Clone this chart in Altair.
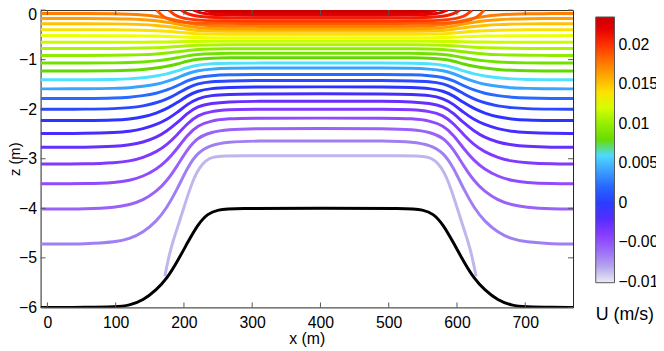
import altair as alt
import pandas as pd

# ---------------- data ----------------
KNOTS_X = [-10, 60, 100, 120, 140, 160, 175, 190, 205, 220, 240, 265, 300, 400]

# far-field contour lines: level (m/s) and z at the knots (left half, symmetric about x=400)
LEVELS = [-0.0068, -0.0057, -0.0047, -0.0037, -0.0026, -0.0015, -0.0005, 0.0007,
          0.0021, 0.0042, 0.0062, 0.0075, 0.0086, 0.0097, 0.0107, 0.0117,
          0.0128, 0.0140, 0.0151, 0.0163, 0.0175]
PROFILES = [
    [-4.72, -4.72, -4.68, -4.62, -4.49, -4.26, -3.99, -3.62, -3.18, -2.87, -2.72, -2.66, -2.64, -2.64],
    [-4.015, -4.015, -3.98, -3.93, -3.84, -3.66, -3.45, -3.15, -2.81, -2.57, -2.46, -2.41, -2.39, -2.39],
    [-3.505, -3.505, -3.48, -3.44, -3.36, -3.21, -3.04, -2.80, -2.52, -2.33, -2.23, -2.19, -2.18, -2.18],
    [-3.105, -3.105, -3.08, -3.05, -2.98, -2.86, -2.72, -2.52, -2.29, -2.12, -2.04, -2.01, -2.00, -2.00],
    [-2.77, -2.77, -2.75, -2.72, -2.67, -2.57, -2.44, -2.28, -2.08, -1.94, -1.88, -1.85, -1.84, -1.84],
    [-2.49, -2.49, -2.47, -2.45, -2.40, -2.31, -2.21, -2.07, -1.90, -1.78, -1.72, -1.70, -1.69, -1.69],
    [-2.23, -2.23, -2.22, -2.20, -2.16, -2.08, -1.99, -1.87, -1.73, -1.63, -1.58, -1.56, -1.55, -1.55],
    [-2.00, -2.00, -1.99, -1.97, -1.94, -1.87, -1.80, -1.69, -1.57, -1.48, -1.44, -1.43, -1.42, -1.42],
    [-1.785, -1.785, -1.775, -1.76, -1.73, -1.68, -1.615, -1.53, -1.425, -1.355, -1.32, -1.305, -1.30, -1.30],
    [-1.59, -1.59, -1.58, -1.57, -1.54, -1.50, -1.44, -1.37, -1.28, -1.22, -1.19, -1.17, -1.17, -1.17],
    [-1.405, -1.405, -1.40, -1.39, -1.37, -1.33, -1.29, -1.23, -1.16, -1.11, -1.08, -1.07, -1.07, -1.07],
    [-1.23, -1.23, -1.225, -1.215, -1.20, -1.17, -1.135, -1.09, -1.03, -0.99, -0.97, -0.963, -0.96, -0.96],
    [-1.07, -1.07, -1.066, -1.06, -1.048, -1.026, -1.00, -0.964, -0.922, -0.892, -0.878, -0.872, -0.87, -0.87],
    [-0.915, -0.915, -0.912, -0.908, -0.90, -0.885, -0.868, -0.843, -0.815, -0.795, -0.785, -0.781, -0.78, -0.78],
    [-0.775, -0.775, -0.774, -0.771, -0.767, -0.758, -0.749, -0.735, -0.720, -0.708, -0.703, -0.701, -0.70, -0.70],
    [-0.65, -0.65, -0.65, -0.649, -0.648, -0.646, -0.643, -0.639, -0.635, -0.632, -0.631, -0.63, -0.63, -0.63],
    [-0.515, -0.515, -0.516, -0.517, -0.52, -0.525, -0.531, -0.539, -0.548, -0.555, -0.558, -0.56, -0.56, -0.56],
    [-0.395, -0.395, -0.397, -0.40, -0.406, -0.416, -0.428, -0.445, -0.465, -0.48, -0.486, -0.489, -0.49, -0.49],
    [-0.275, -0.275, -0.278, -0.283, -0.292, -0.309, -0.329, -0.357, -0.39, -0.413, -0.424, -0.428, -0.43, -0.43],
    [-0.17, -0.17, -0.174, -0.18, -0.193, -0.216, -0.244, -0.281, -0.325, -0.357, -0.372, -0.378, -0.38, -0.38],
    [-0.07, -0.07, -0.075, -0.083, -0.099, -0.127, -0.161, -0.208, -0.262, -0.301, -0.32, -0.327, -0.33, -0.33],
]

# weakest contour: only over the bump
LIGHT_LEVEL = -0.0085
LIGHT_X = [172, 179, 185, 191, 200, 208, 215, 223, 232, 240, 255, 270, 400]
LIGHT_Z = [-5.37, -4.90, -4.62, -4.37, -3.98, -3.64, -3.38, -3.17, -3.04, -2.97, -2.945, -2.94, -2.94]

# strongest contours: enter from the surface over the bump
TOP_LEVELS = [0.0187, 0.0198, 0.0209, 0.0219, 0.0227, 0.0234]
TOP_X = [
    [160, 168, 178, 192, 210, 235, 270, 400],
    [178, 186, 196, 210, 228, 253, 288, 400],
    [196, 204, 214, 228, 246, 271, 306, 400],
    [214, 222, 232, 246, 264, 294, 400],
    [230, 238, 248, 265, 290, 400],
    [246, 254, 264, 280, 305, 400],
]
TOP_Z = [
    [0.0, -0.12, -0.19, -0.235, -0.258, -0.268, -0.27, -0.27],
    [0.0, -0.10, -0.155, -0.19, -0.21, -0.218, -0.22, -0.22],
    [0.0, -0.07, -0.11, -0.138, -0.152, -0.158, -0.16, -0.16],
    [0.0, -0.05, -0.075, -0.093, -0.1, -0.105, -0.105],
    [0.0, -0.03, -0.046, -0.056, -0.06, -0.06],
    [0.0, -0.012, -0.018, -0.022, -0.024, -0.024],
]

# bottom (bump)
BUMP_X = [-10, 60, 100, 120, 140, 160, 175, 190, 205, 220, 235, 250, 270, 400]
BUMP_Z = [-6.0, -6.0, -5.99, -5.96, -5.86, -5.64, -5.42, -5.08, -4.70, -4.33, -4.10, -4.03, -4.0, -4.0]

X_TICKS = [0, 100, 200, 300, 400, 500, 600, 700]
Z_TICKS = [-6, -5, -4, -3, -2, -1, 0]
LEGEND_VALUES = [-0.01, -0.005, 0, 0.005, 0.01, 0.015, 0.02]

CBAR_VALUES = [-0.0101, -0.0090, -0.0080, -0.0068, -0.0055, -0.0042, -0.0030, -0.0017,
               -0.0005, 0.0010, 0.0025, 0.0040, 0.0055, 0.0069, 0.00695, 0.0085,
               0.0100, 0.0115, 0.0128, 0.0142, 0.0156, 0.0170, 0.0185, 0.0200,
               0.0215, 0.0235]
CBAR_COLORS = ['#ebebf2', '#cdc6ec', '#b3a3ee', '#a07ef4', '#9a5cfa', '#8a40ff', '#7030ff', '#4a2cff',
               '#2c34ff', '#2a4cff', '#2e72ff', '#3c9eff', '#52c8ff', '#6af7f7', '#5cd400', '#6ee000',
               '#96ee00', '#c6fa00', '#eeff00', '#ffdc00', '#ffb400', '#ff8c00', '#ff6000', '#ff3000',
               '#f20000', '#c80000']

# ---------------- build tables ----------------
X_MAX = 770


def mirror(xs, zs):
    left = list(zip(xs, zs))
    right = [(min(800 - x, X_MAX), z) for x, z in reversed(left) if x != 400]
    return left + right


rows = []
lid = 0
for lvl, prof in zip(LEVELS, PROFILES):
    for x, z in mirror(KNOTS_X, prof):
        rows.append({"id": lid, "x": x, "z": z, "level": lvl})
    lid += 1
for x, z in mirror(LIGHT_X, LIGHT_Z):
    rows.append({"id": lid, "x": x, "z": z, "level": LIGHT_LEVEL})
lid += 1
for lvl, xs, zs in zip(TOP_LEVELS, TOP_X, TOP_Z):
    for x, z in mirror(xs, zs):
        rows.append({"id": lid, "x": x, "z": z, "level": lvl})
    lid += 1
lines_df = pd.DataFrame(rows)

bump_df = pd.DataFrame([{"x": x, "z": z} for x, z in mirror(BUMP_X, BUMP_Z)])
xt_df = pd.DataFrame({"x": X_TICKS})
zt_df = pd.DataFrame({"z": Z_TICKS})

W, H = 539, 301
FONT = "Liberation Sans"

x_enc = alt.X("x:Q", scale=alt.Scale(domain=[-10, X_MAX], nice=False, zero=False),
              axis=alt.Axis(values=X_TICKS, title="x (m)", ticks=False, tickSize=0, domain=False,
                            grid=False, labelPadding=7, labelFontSize=16, titleFontSize=16,
                            titleFontWeight="normal", labelFlush=False, titleY=37,
                            titleBaseline="alphabetic"))
z_enc = alt.Y("z:Q", scale=alt.Scale(domain=[-6, 0], nice=False, zero=False),
              axis=alt.Axis(values=Z_TICKS, title="z (m)", ticks=False, tickSize=0, domain=False,
                            grid=False, labelPadding=4, labelFontSize=16, titleFontSize=15,
                            titleFontWeight="normal", format="d", labelFlush=False,
                            labelOffset={"condition": {"test": "datum.value == 0", "value": 5},
                                         "value": 0},
                            titleX=-21.5, titleY=H / 2, titleBaseline="alphabetic", titleAngle=270))

color_enc = alt.Color(
    "level:Q",
    scale=alt.Scale(domain=CBAR_VALUES, range=CBAR_COLORS, zero=False, nice=False, clamp=True),
    legend=alt.Legend(orient="none", legendX=562, legendY=7, direction="vertical",
                      gradientLength=269, gradientThickness=19, gradientStrokeColor="#555555",
                      gradientStrokeWidth=1, values=LEGEND_VALUES,
                      labelExpr="format(datum.value, '.3~f')", labelBaseline="middle",
                      labelFontSize=16, labelOffset=4, labelOverlap=False,
                      title="U (m/s)", titleOrient="bottom", titleFontSize=18,
                      titleFontWeight="normal", titleAnchor="start", titleAlign="left",
                      titlePadding=17),
)

contours = alt.Chart(lines_df).mark_line(strokeWidth=3, interpolate="basis", clip=True).encode(
    x=x_enc, y=z_enc, color=color_enc, detail="id:N")

bump = alt.Chart(bump_df).mark_line(color="black", strokeWidth=3, interpolate="basis",
                                    clip=True).encode(x=x_enc, y=z_enc)

TICK_COL = "#555555"
tb = alt.Chart(xt_df).mark_rule(color=TICK_COL, strokeWidth=1).encode(
    x=x_enc, y=alt.value(H), y2=alt.value(H - 5))
tt = alt.Chart(xt_df).mark_rule(color=TICK_COL, strokeWidth=1).encode(
    x=x_enc, y=alt.value(0), y2=alt.value(5))
tl = alt.Chart(zt_df).mark_rule(color=TICK_COL, strokeWidth=1).encode(
    y=z_enc, x=alt.value(0), x2=alt.value(5))
tr = alt.Chart(zt_df).mark_rule(color=TICK_COL, strokeWidth=1).encode(
    y=z_enc, x=alt.value(W), x2=alt.value(W - 5))

chart = alt.layer(contours, bump, tb, tt, tl, tr).properties(
    width=W, height=H,
    autosize=alt.AutoSizeParams(type="none"),
    padding={"left": 33, "top": 0, "right": 84, "bottom": 40},
).configure(font=FONT).configure_view(stroke="#222222", strokeWidth=1).configure_axis(
    labelColor="black", titleColor="black", labelFont=FONT, titleFont=FONT
).configure_legend(labelColor="black", titleColor="black", labelFont=FONT, titleFont=FONT)

chart.save("out.html", embed_options={"renderer": "svg", "actions": False})
